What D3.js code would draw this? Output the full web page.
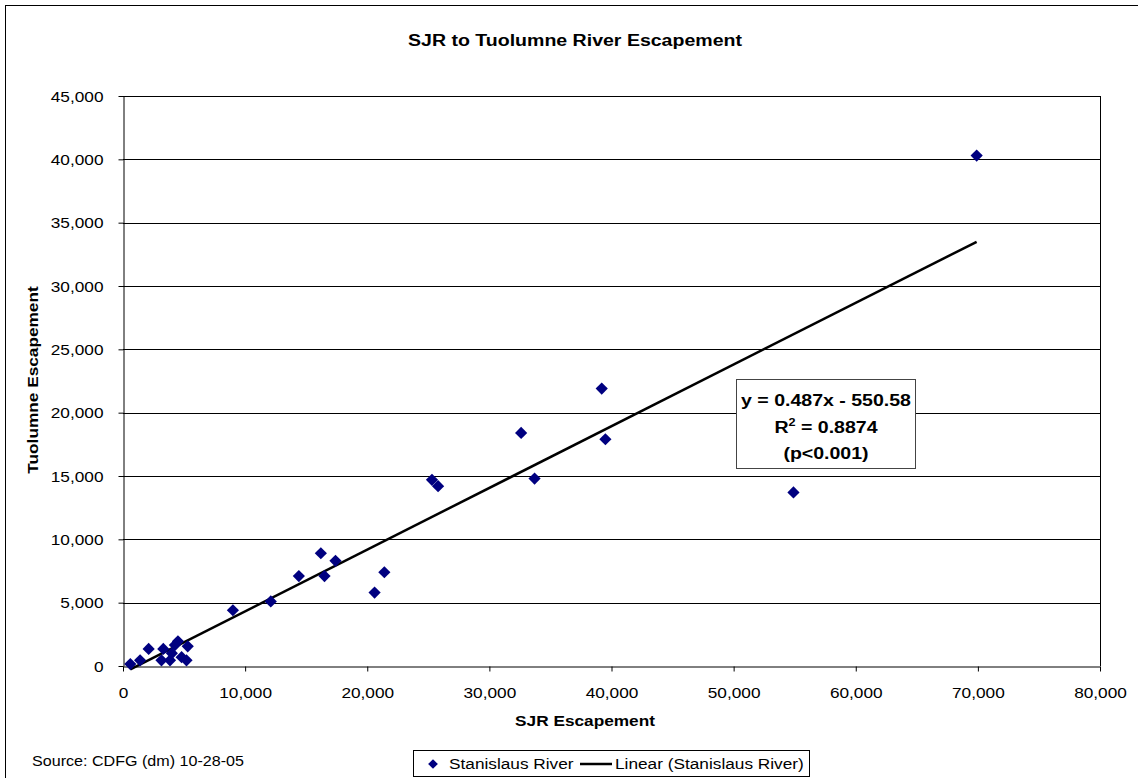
<!DOCTYPE html>
<html><head><meta charset="utf-8">
<script src="https://cdn.jsdelivr.net/npm/d3@7"></script>
<style>body{margin:0;background:#fff}svg{display:block}text{font-family:"Liberation Sans",Arial,sans-serif}</style>
</head><body>
<script>
const sjr = [69900,39200,39500,32600,33700,54900,25300,25800,16200,17400,14400,16500,21400,20600,12100,9000,
  600,1400,2100,3300,3150,4250,4500,3850,4800,5200,5300,4000];
const tuolumne = [40300,21900,17900,18400,14800,13700,14700,14200,8900,8300,7100,7100,7400,5800,5100,4400,
  150,450,1350,1350,450,1650,1950,450,700,450,1550,1000];
const slope = 0.487, intercept = -550.58;
const xTicks = [0,10000,20000,30000,40000,50000,60000,70000,80000];
const yTicks = [0,5000,10000,15000,20000,25000,30000,35000,40000,45000];
const eqLines = ["y = 0.487x - 550.58","R2 = 0.8874","(p<0.001)"];

const W=1138,H=778,SX=1.15;
const svg=d3.select("body").append("svg").attr("width",W).attr("height",H);
svg.append("rect").attr("x",5.5).attr("y",5.5).attr("width",W+10).attr("height",H+10).attr("fill","#fff").attr("stroke","#000").attr("stroke-width",1);

// helper: stretched text at (x,y)
function txt(parent,x0,y0,str,size,opts={}){
  const g=parent.append("g").attr("transform",`translate(${x0},${y0}) ${opts.rot?`rotate(${opts.rot})`:""} scale(${SX},1)`);
  const t=g.append("text").attr("font-size",size).attr("text-anchor",opts.anchor||"start").attr("fill","#000");
  if(opts.bold) t.attr("font-weight","bold");
  if(str!==null) t.text(str);
  return t;
}

const L=123,R=1100,T=96,B=666;
const x=d3.scaleLinear().domain([0,80000]).range([L,R]);
const y=d3.scaleLinear().domain([0,45000]).range([B,T]);
const fmt=d3.format(",");

svg.append("g").selectAll("line").data(yTicks.filter(d=>d>0)).join("line")
  .attr("x1",L).attr("x2",R).attr("y1",d=>Math.round(y(d))+0.5).attr("y2",d=>Math.round(y(d))+0.5)
  .attr("stroke","#000").attr("stroke-width",1);

const xa=svg.append("g").attr("transform",`translate(0,${B+0.5})`)
  .call(d3.axisBottom(x).tickValues(xTicks).tickFormat(fmt).tickSize(5).tickSizeOuter(0));
const ya=svg.append("g").attr("transform",`translate(${L+0.5},0)`)
  .call(d3.axisLeft(y).tickValues(yTicks).tickFormat(fmt).tickSize(5).tickSizeOuter(0));
[xa,ya].forEach(a=>{a.selectAll("text").attr("font-size",15).attr("fill","#000").style("font-family","Liberation Sans, Arial, sans-serif");
  a.selectAll("line,path").attr("stroke","#000");});
xa.selectAll("text").attr("y",0).attr("dy",0).attr("transform",`translate(0,31) scale(${SX},1)`);
ya.selectAll("text").attr("x",0).attr("dy","0.35em").attr("transform",`translate(-20,0) scale(${SX},1)`);
svg.append("line").attr("x1",R+0.5).attr("x2",R+0.5).attr("y1",T).attr("y2",B).attr("stroke","#000");

const xmin=d3.min(sjr),xmax=d3.max(sjr);
svg.append("line").attr("x1",x(xmin)).attr("y1",y(slope*xmin+intercept))
  .attr("x2",x(xmax)).attr("y2",y(slope*xmax+intercept)).attr("stroke","#000").attr("stroke-width",2.5);

const diamond=d3.symbol().type(d3.symbolDiamond2).size(95);
svg.append("g").selectAll("path").data(sjr.map((d,i)=>[d,tuolumne[i]])).join("path")
  .attr("d",diamond).attr("transform",d=>`translate(${x(d[0])},${y(d[1])})`).attr("fill","#000080");

const bx=736,by=379;
svg.append("rect").attr("x",bx+0.5).attr("y",by+0.5).attr("width",179).attr("height",89).attr("fill","#fff").attr("stroke","#444").attr("stroke-width",1);
txt(svg,bx+90,by+27,eqLines[0],17,{anchor:"middle",bold:true});
const t2=txt(svg,bx+90,by+54,null,17,{anchor:"middle",bold:true});
t2.append("tspan").text("R");
t2.append("tspan").attr("dy",-7).attr("font-size",11).text("2");
t2.append("tspan").attr("dy",7).text(" = 0.8874");
txt(svg,bx+90,by+80,eqLines[2],17,{anchor:"middle",bold:true});

txt(svg,575,46,"SJR to Tuolumne River Escapement",17,{anchor:"middle",bold:true});
txt(svg,585,726,"SJR Escapement",15,{anchor:"middle",bold:true});
txt(svg,38,380,"Tuolumne Escapement",15,{anchor:"middle",bold:true,rot:-90});
txt(svg,32,766,"Source: CDFG (dm) 10-28-05",14);

const lg=svg.append("g");
lg.append("rect").attr("x",413.5).attr("y",750.5).attr("width",396).attr("height",26).attr("fill","#fff").attr("stroke","#000");
lg.append("path").attr("d",d3.symbol().type(d3.symbolDiamond2).size(60)).attr("transform","translate(433,764)").attr("fill","#000080");
txt(lg,449,769,"Stanislaus River",15);
lg.append("line").attr("x1",580).attr("x2",612).attr("y1",764).attr("y2",764).attr("stroke","#000").attr("stroke-width",2.5);
txt(lg,615,769,"Linear (Stanislaus River)",15);
</script>
</body></html>
